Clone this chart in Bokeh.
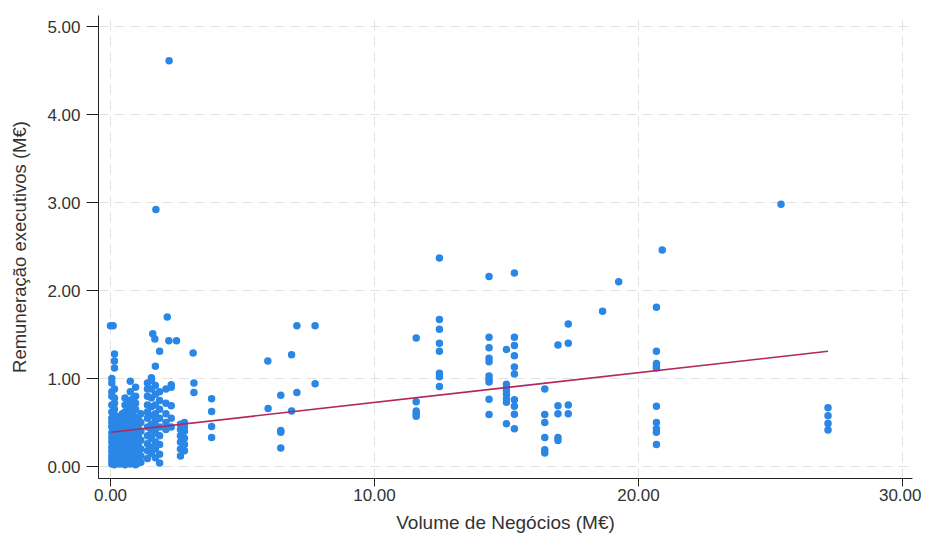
from bokeh.plotting import figure
from bokeh.models import Range1d, FixedTicker, NumeralTickFormatter
from bokeh.embed import file_html
from bokeh.resources import INLINE

# Volume de Negócios (M€) for each column of points, and the remunerations at that volume
vol_cols = [0.05, 0.15, 0.0, 0.10, 0.25, 0.35, 0.45, 0.55, 0.65, 0.75, 0.85, 0.95, 1.05, 1.15,
            1.40, 1.55, 1.70, 1.86, 2.10, 2.30, 2.65, 2.80, 1.60, 1.68, 2.15, 2.21, 2.50, 2.22, 1.72,
            3.13, 3.16, 3.83, 5.96, 5.97, 6.45, 6.86, 7.06, 7.75,
            11.58, 12.46, 14.34, 15.00, 15.30, 16.45, 16.95, 17.34,
            18.64, 19.25, 20.68, 20.90, 25.40, 27.18]
rem_cols = [
    [0.03, 0.07, 0.12, 0.17, 0.22, 0.28, 0.33, 0.38, 0.45, 0.50, 0.55, 0.62, 0.70, 0.80, 0.85, 0.95, 1.00],
    [0.02, 0.06, 0.10, 0.15, 0.20, 0.25, 0.30, 0.36, 0.42, 0.48, 0.52, 0.58, 0.65, 0.72, 0.78, 0.88, 1.12, 1.20, 1.28],
    [1.60],
    [1.60],
    [0.04, 0.09, 0.15, 0.21, 0.27, 0.34, 0.41, 0.50, 0.57],
    [0.03, 0.08, 0.13, 0.18, 0.25, 0.32, 0.40, 0.48],
    [0.05, 0.11, 0.17, 0.24, 0.31, 0.38, 0.44, 0.52, 0.60],
    [0.02, 0.06, 0.10, 0.16, 0.22, 0.30, 0.38, 0.45, 0.55, 0.62, 0.70, 0.78],
    [0.04, 0.10, 0.17, 0.25, 0.33, 0.42, 0.50, 0.58, 0.66, 0.73],
    [0.03, 0.08, 0.14, 0.20, 0.27, 0.35, 0.43, 0.52, 0.60, 0.68, 0.75, 0.85, 0.97],
    [0.05, 0.11, 0.16, 0.23, 0.30, 0.37, 0.45, 0.53, 0.62, 0.70, 0.77],
    [0.02, 0.07, 0.12, 0.18, 0.25, 0.33, 0.40, 0.48, 0.56, 0.65, 0.72, 0.80, 0.90],
    [0.04, 0.10, 0.16, 0.24, 0.35, 0.45, 0.55],
    [0.05, 0.12, 0.20, 0.30, 0.40, 0.50, 0.60],
    [0.09, 0.18, 0.26, 0.35, 0.45, 0.55, 0.62, 0.70, 0.80, 0.88, 0.95],
    [0.15, 0.22, 0.32, 0.40, 0.48, 0.58, 0.68, 0.78, 0.88, 0.98, 1.01],
    [0.10, 0.20, 0.28, 0.38, 0.45, 0.52, 0.60, 0.70, 0.82, 0.92, 1.14],
    [0.04, 0.14, 0.25, 0.35, 0.45, 0.55, 0.65, 0.75, 0.85, 1.31],
    [0.42, 0.50, 0.60, 0.72, 0.88],
    [0.45, 0.55, 0.69, 0.90, 0.93],
    [0.12, 0.20, 0.28, 0.35, 0.42, 0.48],
    [0.18, 0.25, 0.32, 0.40, 0.45, 0.50],
    [1.51],
    [1.45],
    [1.70],
    [1.43],
    [1.43],
    [4.61],
    [2.92],
    [1.29],
    [0.95, 0.84],
    [0.77, 0.625, 0.455, 0.33],
    [1.20],
    [0.66],
    [0.81, 0.41, 0.39, 0.21],
    [1.27, 0.63],
    [1.60, 0.84],
    [1.60, 0.94],
    [1.46, 0.735, 0.63, 0.60, 0.57],
    [2.37, 1.67, 1.56, 1.40, 1.31, 1.06, 1.02, 0.91],
    [2.16, 1.47, 1.35, 1.23, 1.19, 1.03, 0.99, 0.96, 0.765, 0.59],
    [1.33, 0.935, 0.90, 0.86, 0.82, 0.77, 0.73, 0.485],
    [2.20, 1.47, 1.375, 1.26, 1.13, 1.05, 0.76, 0.685, 0.595, 0.43],
    [0.88, 0.59, 0.50, 0.33, 0.19, 0.155],
    [1.38, 0.69, 0.60, 0.33, 0.295],
    [1.62, 1.40, 0.70, 0.60],
    [1.765],
    [2.10],
    [1.81, 1.31, 1.17, 1.14, 1.12, 0.685, 0.50, 0.43, 0.39, 0.25],
    [2.46],
    [2.98],
    [0.667, 0.576, 0.49, 0.415],
]

# fitted line (linear fit) end points
fit_vol = [0.02, 27.18]
fit_rem = [0.39, 1.31]

x_ticks = [0, 10, 20, 30]
y_ticks = [0, 1, 2, 3, 4, 5]

vol = []
rem = []
for xv, ys in zip(vol_cols, rem_cols):
    for yv in ys:
        vol.append(xv)
        rem.append(yv)

FONT = "Liberation Sans"

p = figure(width=921, height=536, output_backend="svg", toolbar_location=None,
           x_range=Range1d(-0.4545, 30.38), y_range=Range1d(-0.136, 5.125),
           min_border_left=98, min_border_right=9, min_border_top=15, min_border_bottom=58)
p.outline_line_color = None
p.background_fill_color = "white"

p.scatter(vol, rem, size=7.5, fill_color="#2a87e6", line_color=None)
p.line(fit_vol, fit_rem, line_color="#b3265e", line_width=1.6)

for ax, ticks in ((p.xaxis, x_ticks), (p.yaxis, y_ticks)):
    ax.ticker = FixedTicker(ticks=ticks)
    ax.formatter = NumeralTickFormatter(format="0.00")
    ax.minor_tick_line_color = None
    ax.major_tick_in = 0
    ax.axis_line_color = "#222222"
    ax.major_tick_line_color = "#222222"
    ax.major_label_text_font = FONT
    ax.major_label_text_font_size = "17px"
    ax.major_label_text_color = "#333333"
    ax.axis_label_text_font = FONT
    ax.axis_label_text_font_style = "normal"
    ax.axis_label_text_color = "#333333"

p.xaxis.axis_label = "Volume de Negócios (M€)"
p.yaxis.axis_label = "Remuneração executivos (M€)"
p.xaxis.axis_label_text_font_size = "19px"
p.yaxis.axis_label_text_font_size = "18.5px"
p.xaxis.major_tick_out = 8
p.yaxis.major_tick_out = 12
p.xaxis.major_label_standoff = 2
p.xaxis.axis_label_standoff = 8
p.yaxis.major_label_standoff = 6
p.yaxis.axis_label_standoff = 14

p.xgrid.ticker = FixedTicker(ticks=x_ticks)
p.ygrid.ticker = FixedTicker(ticks=y_ticks)
for g in (p.xgrid, p.ygrid):
    g.grid_line_color = "#e2e2e2"
    g.grid_line_dash = "10 6"
    g.grid_line_width = 1

open("out.html", "w").write(file_html(p, INLINE))
